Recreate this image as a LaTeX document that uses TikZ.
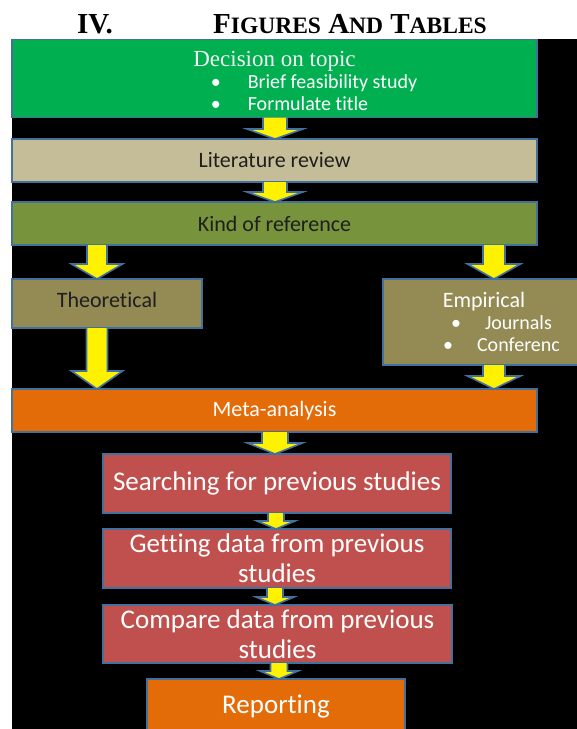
\documentclass[tikz,border=0pt]{standalone}
\usepackage{fontspec}
\setmainfont{Carlito}[Ligatures=NoCommon]
\newfontfamily\serifface{Liberation Serif}
\usetikzlibrary{calc}

\definecolor{topicgreen}{HTML}{00B050}
\definecolor{littan}{HTML}{C4BD97}
\definecolor{kindolive}{HTML}{77933C}
\definecolor{refkhaki}{HTML}{948A54}
\definecolor{metaorange}{HTML}{E36C09}
\definecolor{studyred}{HTML}{C0504D}
\definecolor{edgeblue}{HTML}{41719C}
\definecolor{darktext}{HTML}{1F1F1F}
\definecolor{lighttext}{HTML}{F2F2F2}

\tikzset{
  stage/.style={draw=edgeblue, line width=1.6pt, rectangle, inner sep=0pt, outer sep=0pt, align=center},
  flowarrow/.style={draw=edgeblue, line width=1.6pt, fill=yellow, line join=miter},
}

% block arrow: start, end, half shaft, half head, head length
\newcommand{\flowarrow}[5]{%
  \draw[flowarrow] let \p1=(#1), \p2=(#2) in
    (\x1-#3pt,\y1) -- (\x1-#3pt,\y2+#5pt) -- (\x1-#4pt,\y2+#5pt) -- (\x1,\y2)
    -- (\x1+#4pt,\y2+#5pt) -- (\x1+#3pt,\y2+#5pt) -- (\x1+#3pt,\y1);}

\begin{document}
\begin{tikzpicture}[x=1pt,y=-1pt]
  \clip (0,0) rectangle (577,729);
  \fill[white] (0,0) rectangle (577,729);
  \fill[black] (12,39) rectangle (577,729);

  % heading
  \node[anchor=base, font=\serifface\bfseries\fontsize{29}{29}\selectfont] (secnum) at (95,33) {IV.};
  \node[anchor=base, font=\serifface\bfseries\fontsize{29}{29}\selectfont] (sectitle) at (350,33)
    {F{\fontsize{23.5}{23.5}\selectfont IGURES} A{\fontsize{23.5}{23.5}\selectfont ND} T{\fontsize{23.5}{23.5}\selectfont ABLES}};

  % boxes
  \node[stage, fill=topicgreen, minimum width=525pt, minimum height=77pt, text=white,
        font=\fontsize{20}{22}\selectfont] (topic) at (274.5,78.5)
    {\begin{tabular}{@{}c@{}}
     \rule{0pt}{27.4pt}{\serifface\fontsize{23}{23}\selectfont\color{lighttext}Decision on topic}\\
     \hspace*{79pt}\begin{tabular}{@{}l@{}}\textbullet\hspace{27pt}Brief feasibility study\\
     \textbullet\hspace{27pt}Formulate title\end{tabular}
     \end{tabular}};
  \node[stage, fill=littan, minimum width=525pt, minimum height=43pt, text=darktext,
        font=\fontsize{22}{24}\selectfont] (lit) at (274.5,160.5) {Literature review};
  \node[stage, fill=kindolive, minimum width=525pt, minimum height=43pt, text=darktext,
        font=\fontsize{22}{24}\selectfont] (kind) at (274.5,223.5) {Kind of reference};
  \node[stage, fill=refkhaki, minimum width=190pt, minimum height=49pt, text=darktext,
        text depth=8pt, font=\fontsize{22}{24}\selectfont] (theo) at (107,303.5) {Theoretical};
  \node[stage, fill=refkhaki, minimum width=207pt, minimum height=86pt, text=white,
        font=\fontsize{20}{22}\selectfont] (emp) at (486.5,322)
    {\begin{tabular}{@{}c@{}}
     \rule{0pt}{21.5pt}{\fontsize{22}{22}\selectfont Empirical}\hspace*{5pt}\\
     \hspace*{30pt}\textbullet\hspace{24pt}Journals\\
     \hspace*{30pt}\textbullet\hspace{24pt}Conferenc
     \end{tabular}};
  \node[stage, fill=metaorange, minimum width=525pt, minimum height=43pt, text=white,
        font=\fontsize{22}{24}\selectfont] (meta) at (274.5,410.5) {Meta-analysis};
  \node[stage, fill=studyred, minimum width=348pt, minimum height=59pt, text=white,
        font=\fontsize{27}{30}\selectfont] (search) at (277,483.5) {Searching for previous studies};
  \node[stage, fill=studyred, minimum width=348pt, minimum height=59pt, text=white,
        font=\fontsize{27}{30}\selectfont] (get) at (277,558.5) {Getting data from previous\\studies};
  \node[stage, fill=studyred, minimum width=349pt, minimum height=58pt, text=white,
        font=\fontsize{27}{30}\selectfont] (comp) at (277.5,634) {Compare data from previous\\studies};
  \node[stage, fill=metaorange, minimum width=258pt, minimum height=56pt, text=white,
        font=\fontsize{27}{30}\selectfont] (rep) at (276,707) {Reporting};

  % arrows
  \flowarrow{275,0 |- topic.south}{275,0 |- lit.north}{12}{28}{10}
  \flowarrow{275,0 |- lit.south}{275,0 |- kind.north}{12}{28}{10}
  \flowarrow{97,0 |- kind.south}{97,0 |- theo.north}{10}{25.5}{15}
  \flowarrow{494,0 |- kind.south}{494,0 |- emp.north}{11}{26.5}{15}
  \flowarrow{97,0 |- theo.south}{97,0 |- meta.north}{10.5}{25.5}{18}
  \flowarrow{494,0 |- emp.south}{494,0 |- meta.north}{11}{26.5}{13}
  \flowarrow{275,0 |- meta.south}{275,0 |- search.north}{13}{27.5}{11}
  \flowarrow{276,0 |- search.south}{276,0 |- get.north}{8}{19}{8}
  \flowarrow{275,0 |- get.south}{275,0 |- comp.north}{8}{19}{8}
  \flowarrow{279,0 |- comp.south}{279,0 |- rep.north}{8.5}{19}{8}
\end{tikzpicture}
\end{document}
